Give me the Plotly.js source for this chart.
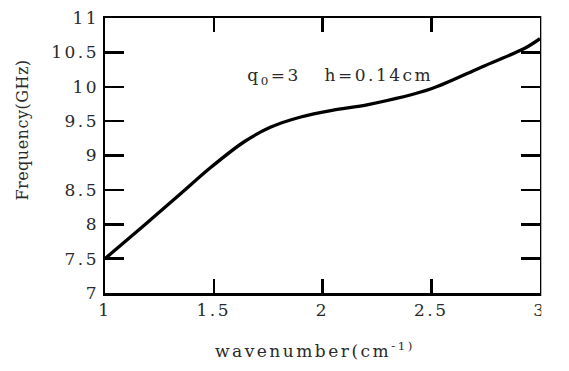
<!DOCTYPE html>
<html>
<head>
<meta charset="utf-8">
<script src="https://cdn.plot.ly/plotly-3.0.1.min.js"></script>
<style>
  html, body { margin: 0; padding: 0; background: #fff; }
  #chart { width: 569px; height: 371px; }
  /* the reference lettering is wide and loosely spaced */
  #chart text { letter-spacing: 2.5px; }
  #chart .annotation[data-index="1"] text { letter-spacing: 0.5px; }
</style>
</head>
<body>
<div id="chart"></div>
<script>
// Dispersion curve, values
const wavenumber = [1.0, 1.175, 1.35, 1.48, 1.64, 1.76, 1.9, 2.05, 2.21, 2.5, 2.72, 2.93, 3.0];
const frequency = [7.5, 7.97, 8.45, 8.81, 9.2, 9.41, 9.56, 9.66, 9.74, 9.97, 10.27, 10.56, 10.7];

const xTicks = [1, 1.5, 2, 2.5, 3];
const yTicks = [7, 7.5, 8, 8.5, 9, 9.5, 10, 10.5, 11];

const serif = 'DejaVu Serif, Liberation Serif, serif';

const trace = {
    x: wavenumber,
    y: frequency,
    type: 'scatter',
    mode: 'lines',
    line: { color: '#000', width: 3.3, shape: 'spline', smoothing: 0.8 },
    hoverinfo: 'skip'
};

const axisBase = {
    showgrid: false,
    zeroline: false,
    showline: true,
    linecolor: '#000',
    linewidth: 2.5,
    mirror: 'ticks',
    ticks: 'inside',
    tickcolor: '#000',
    tickwidth: 2.5,
    ticklabeloverflow: 'allow',
    ticklabelstandoff: 0,
    tickfont: { family: serif, size: 17, color: '#2a2a2a' }
};

const layout = {
    width: 569,
    height: 371,
    margin: { l: 105, r: 29, t: 18, b: 78 },
    paper_bgcolor: '#fff',
    plot_bgcolor: '#fff',
    showlegend: false,
    xaxis: Object.assign({}, axisBase, {
        range: [1, 3],
        tickvals: xTicks,
        ticktext: xTicks.map(String),
        ticklen: 14
    }),
    yaxis: Object.assign({}, axisBase, {
        range: [7, 11],
        tickvals: yTicks,
        ticktext: yTicks.map(String),
        ticklen: 19
    }),
    // the source figure is cropped just right of the frame, cutting the last tick label
    shapes: [{
        type: 'rect', layer: 'above',
        xref: 'paper', yref: 'paper',
        x0: 1.003, x1: 1.1, y0: -0.3, y1: 1.1,
        fillcolor: '#fff', line: { width: 0 }
    }],
    annotations: [
        {
            text: 'q<sub>0</sub>=3&nbsp;&nbsp;&nbsp;h=0.14cm',
            xref: 'paper', yref: 'paper',
            x: 0.541, y: 0.789, xanchor: 'center', yanchor: 'middle',
            showarrow: false,
            font: { family: serif, size: 17, color: '#2a2a2a' }
        },
        {
            text: 'Frequency(GHz)',
            xref: 'paper', yref: 'paper',
            x: -0.191, y: 0.592, xanchor: 'center', yanchor: 'middle',
            textangle: -90,
            showarrow: false,
            font: { family: serif, size: 16, color: '#2a2a2a' }
        },
        {
            text: 'wavenumber(cm<sup>-1)</sup>',
            xref: 'paper', yref: 'paper',
            x: 0.483, y: -0.206, xanchor: 'center', yanchor: 'middle',
            showarrow: false,
            font: { family: serif, size: 17, color: '#2a2a2a' }
        }
    ]
};

Plotly.newPlot('chart', [trace], layout, { staticPlot: true, displayModeBar: false });
</script>
</body>
</html>
